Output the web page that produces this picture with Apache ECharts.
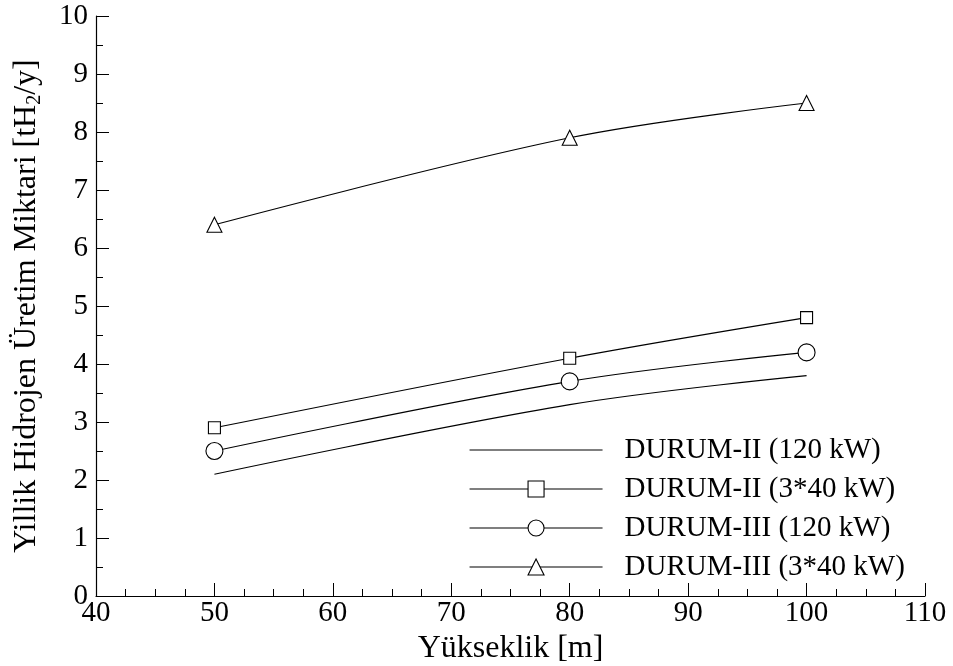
<!DOCTYPE html>
<html><head><meta charset="utf-8">
<script src="https://cdn.jsdelivr.net/npm/echarts@6/dist/echarts.min.js"></script>
<style>html,body{margin:0;padding:0;background:#fff}#c{width:953px;height:666px}</style>
</head><body><div id="c"></div>
<script>
const xValues = [50, 80, 100];
const durum2_120 = [2.1, 3.3, 3.8];
const durum2_3x40 = [2.9, 4.1, 4.8];
const durum3_120 = [2.5, 3.7, 4.2];
const durum3_3x40 = [6.4, 7.9, 8.5];
const seriesNames = ['DURUM-II (120 kW)', 'DURUM-II (3*40 kW)', 'DURUM-III (120 kW)', 'DURUM-III (3*40 kW)'];
const xTicks = [40, 50, 60, 70, 80, 90, 100, 110];
const yTicks = [0, 1, 2, 3, 4, 5, 6, 7, 8, 9, 10];

const FONT = '"Liberation Serif", "Times New Roman", serif';
const LINE_ICON = 'path://M0,0L0.01,0L0,0.01Z M0,9.45H133V10.55H0Z M0,20L0.01,20L0,19.99Z';
function pairs(vals){ return xValues.map((x,i)=>[x, vals[i]]); }
function mk(name, vals, symbol, size){
  return {
    name, type:'line', data: pairs(vals), smooth: 0.35,
    symbol, symbolSize: size, showSymbol: symbol !== 'none',
    lineStyle:{color:'#000', width:1.1},
    itemStyle:{color:'#fff', borderColor:'#000', borderWidth:1.1},
    emphasis:{disabled:true}, z: 3
  };
}
const chart = echarts.init(document.getElementById('c'));
chart.setOption({
  animation:false,
  backgroundColor:'#fff',
  grid:{left:96, right:28, top:16, bottom:70, containLabel:false, outerBoundsMode:'none'},
  legend:{
    show:true, orient:'vertical', left:464, top:429,
    itemWidth:133, itemHeight:20, itemGap:7,
    itemStyle:{borderWidth:1.1},
    lineStyle:{width:1.1},
    textStyle:{fontFamily:FONT, fontSize:29, lineHeight:32, color:'#000', padding:[0,0,0,17]},
    data: [
      {name: seriesNames[0], icon: LINE_ICON, itemStyle:{color:'#000', borderWidth:0}},
      {name: seriesNames[1]},
      {name: seriesNames[2]},
      {name: seriesNames[3]}
    ]
  },
  xAxis:{
    type:'value', min:40, max:110, interval:10,
    name:'Yükseklik [m]', nameLocation:'middle', nameGap:34,
    nameTextStyle:{fontFamily:FONT, fontSize:32, color:'#000'},
    axisLine:{show:true, lineStyle:{color:'#000', width:1.2}},
    axisTick:{show:true, inside:true, length:13, lineStyle:{color:'#000', width:1}},
    minorTick:{show:true, splitNumber:4, length:7, lineStyle:{color:'#000', width:1}},
    axisLabel:{fontFamily:FONT, fontSize:29, color:'#000', margin:3,
      formatter: v => xTicks.includes(v) ? String(v) : ''},
    splitLine:{show:false}
  },
  yAxis:{
    type:'value', min:0, max:10, interval:1,
    name:'{a|Yillik Hidrojen Üretim Miktari [tH}{s|2}{a|/y]}', nameLocation:'middle', nameGap:51,
    nameTextStyle:{fontFamily:FONT, fontSize:32, color:'#000',
      rich:{a:{fontFamily:FONT, fontSize:32, color:'#000'}, s:{fontFamily:FONT, fontSize:20, color:'#000', verticalAlign:'bottom', padding:[16,0,0,0]}}},
    axisLine:{show:true, lineStyle:{color:'#000', width:1.2}},
    axisTick:{show:true, inside:true, length:13, lineStyle:{color:'#000', width:1}},
    minorTick:{show:true, splitNumber:2, length:7, lineStyle:{color:'#000', width:1}},
    axisLabel:{fontFamily:FONT, fontSize:29, color:'#000', margin:8,
      formatter: v => yTicks.includes(v) ? String(v) : ''},
    splitLine:{show:false}
  },
  series:[
    mk(seriesNames[0], durum2_120, 'none', 0),
    mk(seriesNames[1], durum2_3x40, 'rect', 12),
    mk(seriesNames[2], durum3_120, 'circle', 17),
    mk(seriesNames[3], durum3_3x40, 'triangle', 15)
  ]
});
</script>
</body></html>
